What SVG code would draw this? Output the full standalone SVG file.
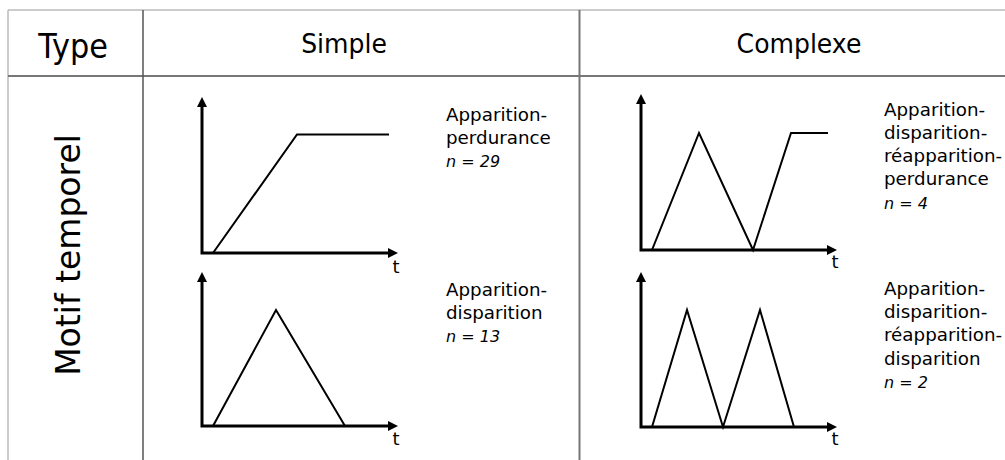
<svg xmlns="http://www.w3.org/2000/svg" width="1005" height="460" viewBox="0 0 1005 460">
<style>
text{font-family:"DejaVu Sans","Liberation Sans",sans-serif;fill:#000}
.hd{font-size:27px;text-anchor:middle}
.lb{font-size:18.3px}
.n{font-size:16px;font-style:italic}
.t{font-size:18px;text-anchor:middle}
.ax{fill:none;stroke:#000;stroke-width:3;stroke-linejoin:miter;marker-start:url(#ah);marker-end:url(#ah)}
.dl{fill:none;stroke:#000;stroke-width:2;stroke-linejoin:miter}
</style>
<defs>
<marker id="ah" markerUnits="userSpaceOnUse" markerWidth="10" markerHeight="10" viewBox="0 0 10 10" refX="1" refY="5" orient="auto-start-reverse">
<path d="M0,0 L10,5 L0,10 z" fill="#000"/>
</marker>
</defs>
<g id="table">
<line x1="8" y1="10" x2="1005" y2="10" stroke="#bbb" stroke-width="1.5"/>
<line x1="8" y1="10" x2="8" y2="460" stroke="#bbb" stroke-width="1.5"/>
<line x1="8" y1="76" x2="1005" y2="76" stroke="#777" stroke-width="2"/>
<line x1="143" y1="10" x2="143" y2="460" stroke="#555" stroke-width="1.5"/>
<line x1="579.5" y1="10" x2="579.5" y2="460" stroke="#777" stroke-width="2"/>
</g>
<g id="header">
<text x="0" y="0" transform="translate(73 58) scale(0.92 1)" style="font-size:33px;text-anchor:middle">Type</text>
<text class="hd" x="0" y="0" transform="translate(344 52.5) scale(0.93 1)">Simple</text>
<text class="hd" x="0" y="0" transform="translate(799 52.5) scale(0.93 1)">Complexe</text>
<text x="79.5" y="255" transform="rotate(-90 79.5 255)" style="font-size:33px;text-anchor:middle">Motif temporel</text>
</g>
<g id="connectors">
<path class="ax" d="M202,106 L202,253 L389,253"/>
<path class="ax" d="M202,281 L202,426 L389,426"/>
<path class="ax" d="M641,103 L641,250 L828,250"/>
<path class="ax" d="M641,281 L641,427 L828,427"/>
</g>
<g id="chart-simple-1">
<polyline class="dl" points="213,253 297,134.5 389,134.5"/>
<text class="t" x="396" y="272.5">t</text>
<text class="lb" x="446" y="121">Apparition-</text>
<text class="lb" x="446" y="144">perdurance</text>
<text class="n" x="446" y="167">n = 29</text>
</g>
<g id="chart-simple-2">
<polyline class="dl" points="213,426 276,310 345,426"/>
<text class="t" x="396" y="445">t</text>
<text class="lb" x="446" y="296">Apparition-</text>
<text class="lb" x="446" y="319">disparition</text>
<text class="n" x="446" y="342">n = 13</text>
</g>
<g id="chart-complexe-1">
<polyline class="dl" points="652,250 699,133 753,250 791,133 828,133"/>
<text class="t" x="835" y="268">t</text>
<text class="lb" x="884" y="116">Apparition-</text>
<text class="lb" x="884" y="139">disparition-</text>
<text class="lb" x="884" y="162">réapparition-</text>
<text class="lb" x="884" y="185">perdurance</text>
<text class="n" x="884" y="209">n = 4</text>
</g>
<g id="chart-complexe-2">
<polyline class="dl" points="652,427 687,310 723,427 760,310 794,427"/>
<text class="t" x="835" y="445">t</text>
<text class="lb" x="884" y="295">Apparition-</text>
<text class="lb" x="884" y="318">disparition-</text>
<text class="lb" x="884" y="341">réapparition-</text>
<text class="lb" x="884" y="365">disparition</text>
<text class="n" x="884" y="388">n = 2</text>
</g>
</svg>
